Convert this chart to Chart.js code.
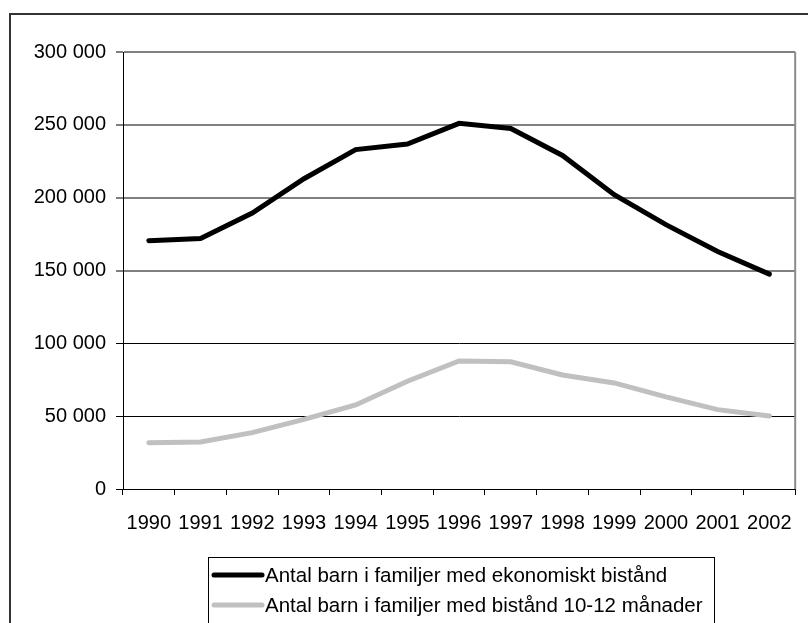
<!DOCTYPE html>
<html>
<head>
<meta charset="utf-8">
<script src="https://cdn.jsdelivr.net/npm/chart.js@4"></script>
<style>
  html, body { margin: 0; padding: 0; background: #fff; }
  #wrap { width: 808px; height: 623px; position: relative; }
</style>
</head>
<body>
<div id="wrap"><canvas id="chart" width="808" height="623"></canvas></div>
<script>
const years = ['1990', '1991', '1992', '1993', '1994', '1995', '1996', '1997', '1998', '1999', '2000', '2001', '2002'];
const barnBistand = [170500, 172000, 189500, 213000, 233000, 236800, 251000, 247500, 229000, 202000, 181500, 163000, 147500];
const barnLangvarigt = [31800, 32300, 38700, 47800, 57700, 74000, 87900, 87300, 78300, 72800, 63200, 54500, 50100];
const labelBistand = 'Antal barn i familjer med ekonomiskt bistånd';
const labelLangvarigt = 'Antal barn i familjer med bistånd 10-12 månader';
const yTicks = [0, 50000, 100000, 150000, 200000, 250000, 300000];

const FONT = '"Liberation Sans", Arial, sans-serif';

// space as thousand separator, like "250 000"
const fmt = v => String(v).replace(/\B(?=(\d{3})+(?!\d))/g, ' ');

// outer frame, right plot border and the boxed legend
const decorations = {
  id: 'decorations',
  beforeDraw(chart) {
    const ctx = chart.ctx;
    ctx.save();
    ctx.fillStyle = '#fff';
    ctx.fillRect(0, 0, chart.width, chart.height);
    ctx.strokeStyle = '#333';
    ctx.lineWidth = 2;
    ctx.strokeRect(10, 14, chart.width + 20, chart.height + 20);
    ctx.restore();
  },
  afterDatasetsDraw(chart) {
    const ctx = chart.ctx;
    const a = chart.chartArea;
    ctx.save();
    ctx.strokeStyle = '#8c8c8c';
    ctx.lineWidth = 2;
    ctx.beginPath();
    ctx.moveTo(a.right, a.top);
    ctx.lineTo(a.right, a.bottom);
    ctx.stroke();

    // legend box
    const bx = 208.5, by = 557.5, bw = 506, bh = 80;
    ctx.strokeStyle = '#000';
    ctx.lineWidth = 1;
    ctx.strokeRect(bx, by, bw, bh);
    ctx.font = '20.5px ' + FONT;
    ctx.textBaseline = 'middle';
    ctx.fillStyle = '#000';
    chart.data.datasets.forEach((ds, i) => {
      const y = 575 + i * 30;
      ctx.strokeStyle = ds.borderColor;
      ctx.lineWidth = 5;
      ctx.lineCap = 'round';
      ctx.beginPath();
      ctx.moveTo(214, y);
      ctx.lineTo(262, y);
      ctx.stroke();
      ctx.fillText(ds.label, 265, y + 1);
    });
    ctx.restore();
  }
};

new Chart(document.getElementById('chart'), {
  type: 'line',
  data: {
    labels: years,
    datasets: [
      {
        label: labelBistand,
        data: barnBistand,
        borderColor: '#000',
        borderWidth: 5,
        pointRadius: 0,
        tension: 0,
        borderCapStyle: 'round'
      },
      {
        label: labelLangvarigt,
        data: barnLangvarigt,
        borderColor: '#c0c0c0',
        borderWidth: 5,
        pointRadius: 0,
        tension: 0,
        borderCapStyle: 'round'
      }
    ]
  },
  options: {
    responsive: false,
    animation: false,
    devicePixelRatio: 1,
    layout: { padding: { left: 0, right: 11, top: 52, bottom: 89 } },
    plugins: {
      legend: { display: false },
      tooltip: { enabled: false }
    },
    scales: {
      x: {
        offset: true,
        grid: {
          offset: true,
          drawOnChartArea: false,
          drawTicks: true,
          tickLength: 6,
          tickColor: '#000'
        },
        border: { display: true, color: '#000', width: 1 },
        ticks: {
          color: '#000',
          font: { family: FONT, size: 20 },
          padding: 16,
          maxRotation: 0,
          autoSkip: false
        },
        afterFit: s => { s.height = 45; }
      },
      y: {
        min: 0,
        max: 300000,
        afterBuildTicks: s => { s.ticks = yTicks.map(v => ({ value: v })); },
        grid: {
          color: c => (c.tick && c.tick.value <= 100000 ? '#000' : '#808080'),
          lineWidth: c => (c.tick && c.tick.value <= 100000 ? 1 : 2),
          tickColor: '#000',
          tickLength: 7,
          tickWidth: 1
        },
        border: { display: true, color: '#000', width: 1 },
        ticks: {
          color: '#000',
          font: { family: FONT, size: 20 },
          padding: 10,
          callback: v => fmt(v)
        },
        afterFit: s => { s.width = 123; }
      }
    }
  },
  plugins: [decorations]
});
</script>
</body>
</html>
